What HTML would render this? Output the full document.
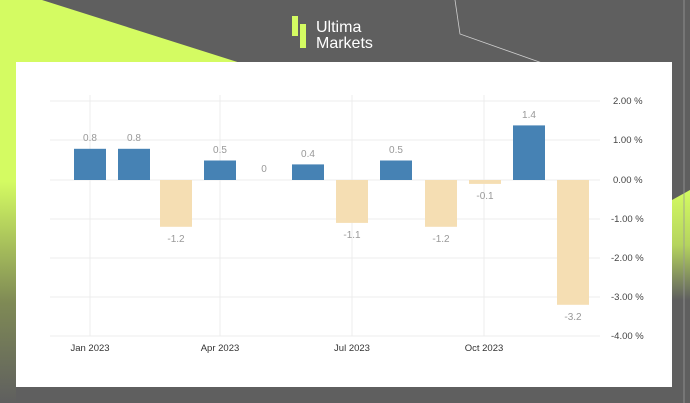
<!DOCTYPE html>
<html><head><style>
body{margin:0;width:690px;height:403px;overflow:hidden;background:#5f5f5f;font-family:"Liberation Sans",sans-serif}
</style></head><body>
<svg width="690" height="403" style="position:absolute;left:0;top:0">
<defs>
<linearGradient id="lg" x1="0" y1="0" x2="0" y2="1">
<stop offset="0" stop-color="#d4fb62"/><stop offset="0.45" stop-color="#d4fb62"/><stop offset="0.75" stop-color="#7f8a55"/><stop offset="1" stop-color="#5f5f5f"/></linearGradient>
<linearGradient id="rg" x1="0" y1="0" x2="0" y2="1">
<stop offset="0" stop-color="#d4fb62"/><stop offset="0.5" stop-color="#b5d45e"/><stop offset="1" stop-color="#5f5f5f"/></linearGradient>
</defs>
<polygon points="0,0 42,0 250,66 16,66 16,330 0,340" fill="url(#lg)"/>
<rect x="0" y="0" width="16" height="403" fill="url(#lg)"/>
<polygon points="672,200 690,190 690,300 672,300" fill="url(#rg)"/>
<polyline points="455,0 460,34 545,64" fill="none" stroke="#cfcfcf" stroke-width="0.8"/>
<line x1="684" y1="0" x2="684" y2="403" stroke="#999" stroke-width="0.8"/>
<rect x="292" y="16" width="6" height="20" fill="#d4fb62"/>
<rect x="300" y="24" width="6" height="24" fill="#d4fb62"/>
<text x="316" y="32" fill="#fff" font-size="16">Ultima</text>
<text x="316" y="48" fill="#fff" font-size="16">Markets</text>
<rect x="16" y="62" width="656" height="325" fill="#fff"/>
<g stroke="#ececec" stroke-width="1">
<line x1="50" x2="600" y1="101" y2="101"/><line x1="50" x2="600" y1="140" y2="140"/>
<line x1="50" x2="600" y1="180" y2="180"/><line x1="50" x2="600" y1="219" y2="219"/>
<line x1="50" x2="600" y1="258" y2="258"/><line x1="50" x2="600" y1="297" y2="297"/>
<line x1="50" x2="600" y1="336" y2="336"/>
<line x1="90" x2="90" y1="95" y2="336"/><line x1="220" x2="220" y1="95" y2="336"/>
<line x1="352" x2="352" y1="95" y2="336"/><line x1="484" x2="484" y1="95" y2="336"/>
</g>
<g fill="#4682b4">
<rect x="74" y="148.8" width="32" height="31.2"/>
<rect x="118" y="148.8" width="32" height="31.2"/>
<rect x="204" y="160.5" width="32" height="19.5"/>
<rect x="292" y="164.4" width="32" height="15.6"/>
<rect x="380" y="160.5" width="32" height="19.5"/>
<rect x="513" y="125.4" width="32" height="54.6"/>
</g>
<g fill="#f5deb3">
<rect x="160" y="180" width="32" height="46.8"/>
<rect x="336" y="180" width="32" height="42.9"/>
<rect x="425" y="180" width="32" height="46.8"/>
<rect x="469" y="180" width="32" height="3.9"/>
<rect x="557" y="180" width="32" height="124.8"/>
</g>
<g fill="#999" font-size="10" text-anchor="middle">
<text x="90" y="141">0.8</text><text x="134" y="141">0.8</text><text x="176" y="242">-1.2</text>
<text x="220" y="153">0.5</text><text x="264" y="172">0</text><text x="308" y="157">0.4</text>
<text x="352" y="238">-1.1</text><text x="396" y="153">0.5</text><text x="441" y="242">-1.2</text>
<text x="485" y="199">-0.1</text><text x="529" y="118">1.4</text><text x="573" y="320">-3.2</text>
</g>
<g fill="#444" font-size="9.5">
<text x="613" y="104">2.00 %</text><text x="613" y="143">1.00 %</text><text x="613" y="183">0.00 %</text>
<text x="611" y="222">-1.00 %</text><text x="611" y="261">-2.00 %</text><text x="611" y="300">-3.00 %</text>
<text x="611" y="339">-4.00 %</text>
</g>
<g fill="#333" font-size="9.5" text-anchor="middle">
<text x="90" y="351">Jan 2023</text><text x="220" y="351">Apr 2023</text>
<text x="352" y="351">Jul 2023</text><text x="484" y="351">Oct 2023</text>
</g>
</svg>
</body></html>
